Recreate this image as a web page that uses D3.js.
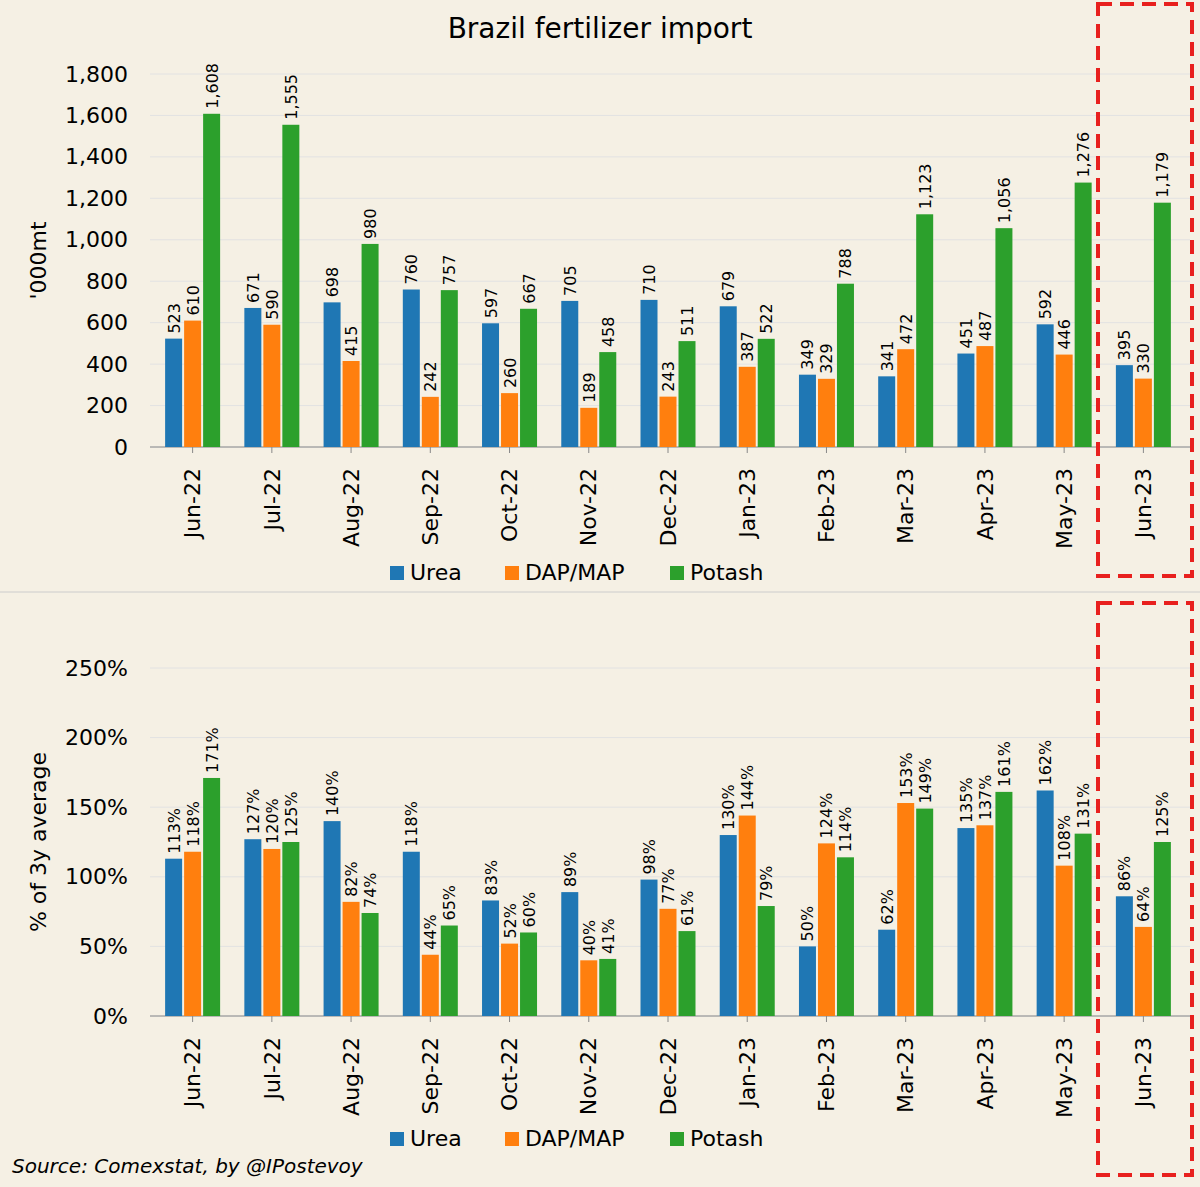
<!DOCTYPE html>
<html><head><meta charset="utf-8">
<script src="https://cdn.jsdelivr.net/npm/d3@7"></script>
<style>body{margin:0;background:#f5f0e4}svg{display:block;font-family:"DejaVu Sans",sans-serif}</style>
</head><body><svg id="c" width="1200" height="1187"></svg>
<script>
const months=["Jun-22","Jul-22","Aug-22","Sep-22","Oct-22","Nov-22","Dec-22","Jan-23","Feb-23","Mar-23","Apr-23","May-23","Jun-23"];
const series=["Urea","DAP/MAP","Potash"];
const colors=["#1f77b4","#ff7f0e","#2ca02c"];
const urea=[523,671,698,760,597,705,710,679,349,341,451,592,395];
const dap=[610,590,415,242,260,189,243,387,329,472,487,446,330];
const potash=[1608,1555,980,757,667,458,511,522,788,1123,1056,1276,1179];
const ureaPct=[113,127,140,118,83,89,98,130,50,62,135,162,86];
const dapPct=[118,120,82,44,52,40,77,144,124,153,137,108,64];
const potashPct=[171,125,74,65,60,41,61,79,114,149,161,131,125];
const topTicks=[0,200,400,600,800,1000,1200,1400,1600,1800];
const botTicks=[0,50,100,150,200,250];

const svg=d3.select("#c");
svg.append("rect").attr("width",1200).attr("height",1187).attr("fill","#f5f0e4");
svg.append("line").attr("x1",0).attr("x2",1200).attr("y1",592).attr("y2",592).attr("stroke","#ccc");
svg.append("text").attr("x",600).attr("y",38).attr("text-anchor","middle").attr("font-size",28).text("Brazil fertilizer import");

function panel(data,yMax,ticks,y0,y1,fmtTick,fmtVal,ylabel,legendY){
  const x=d3.scaleBand().domain(months).range([153,1183]);
  const y=d3.scaleLinear().domain([0,yMax]).range([y0,y1]);
  const g=svg.append("g");
  g.selectAll(".gr").data(ticks).join("line").attr("x1",150).attr("x2",1190)
   .attr("y1",d=>y(d)).attr("y2",d=>y(d)).attr("stroke","#e2e2e2");
  const ya=g.append("g").attr("transform","translate(150,0)").call(d3.axisLeft(y).tickValues(ticks).tickFormat(fmtTick).tickSize(0).tickPadding(22));
  ya.select(".domain").remove();
  ya.selectAll("text").attr("font-size",22).attr("font-family","DejaVu Sans");
  const xa=g.append("g").attr("transform",`translate(0,${y0})`).call(d3.axisBottom(x).tickSize(6).tickPadding(10));
  xa.select(".domain").attr("stroke","#888").attr("d","M150,0H1190");
  xa.selectAll("line").attr("stroke","#888");
  xa.selectAll("text").attr("font-size",22).attr("font-family","DejaVu Sans")
    .attr("transform","rotate(-90)").attr("text-anchor","end").attr("dx","-0.5em").attr("dy","0.35em").attr("x",-10).attr("y",0);
  data.forEach((arr,si)=>{
    const off=(si-1)*19-8.5;
    g.selectAll(".b"+si).data(arr).join("rect").attr("x",(d,i)=>x(months[i])+x.bandwidth()/2+off)
     .attr("width",17).attr("y",d=>y(d)).attr("height",d=>y0-y(d)).attr("fill",colors[si]);
    g.selectAll(".t"+si).data(arr).join("text").attr("font-size",16)
     .attr("transform",(d,i)=>`translate(${x(months[i])+x.bandwidth()/2+off+8.5+6},${y(d)-5}) rotate(-90)`)
     .text(fmtVal);
  });
  g.select("dummy");
  svg.append("text").attr("transform",`translate(46,${(y0+y1)/2}) rotate(-90)`).attr("text-anchor","middle").attr("font-size",22).text(ylabel);
  // legend
  const lx=[390,505,670];
  series.forEach((s,i)=>{
    svg.append("rect").attr("x",lx[i]).attr("y",legendY-14).attr("width",14).attr("height",14).attr("fill",colors[i]);
    svg.append("text").attr("x",lx[i]+20).attr("y",legendY).attr("font-size",22).text(s);
  });
}
const f=d3.format(",");
panel([urea,dap,potash],1800,topTicks,447,74,d=>f(d),d=>f(d),"'000mt",580);
panel([ureaPct,dapPct,potashPct],250,botTicks,1016,668,d=>d+"%",d=>d+"%","% of 3y average",1146);
[[4,576],[603,1175]].forEach(([a,b])=>svg.append("rect").attr("x",1098).attr("y",a).attr("width",94).attr("height",b-a)
  .attr("fill","none").attr("stroke","#e8201e").attr("stroke-width",4).attr("stroke-dasharray","14,8"));
svg.append("text").attr("x",12).attr("y",1173).attr("font-size",20).attr("font-style","italic").text("Source: Comexstat, by @IPostevoy");
</script></body></html>
